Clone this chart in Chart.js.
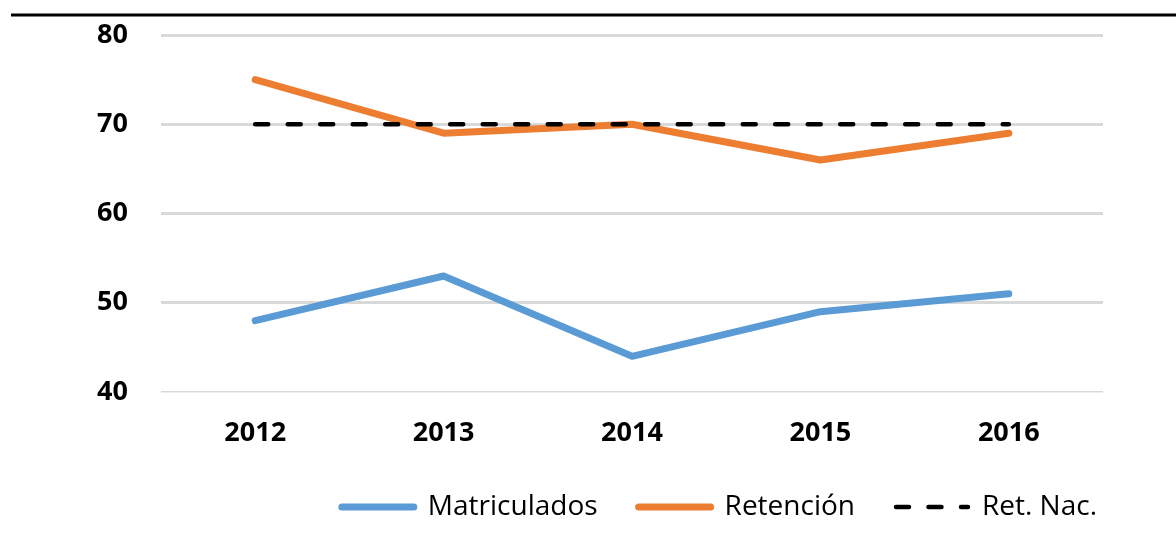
<!DOCTYPE html>
<html>
<head>
<meta charset="utf-8">
<script src="https://cdn.jsdelivr.net/npm/chart.js@4"></script>
<style>
  body { margin: 0; background: #fff; }
  #wrap { width: 1176px; height: 533px; position: relative; }
</style>
</head>
<body>
<div id="wrap"><canvas id="chart"></canvas></div>
<script>
const years = ['2012', '2013', '2014', '2015', '2016'];
const matriculados = [48, 53, 44, 49, 51];
const retencion = [75, 69, 70, 66, 69];
const retNac = [70, 70, 70, 70, 70];
const yTicks = [40, 50, 60, 70, 80];

// black rule across the top of the figure
const topRule = {
  id: 'topRule',
  beforeDraw(chart) {
    const c = chart.ctx;
    c.save();
    c.strokeStyle = '#000';
    c.lineWidth = 3;
    c.beginPath();
    c.moveTo(11, 15);
    c.lineTo(chart.width, 15);
    c.stroke();
    c.restore();
  }
};

// nudge the legend a bit to the right, like the original
const legendShift = {
  id: 'legendShift',
  afterLayout(chart) {
    if (chart.legend) {
      chart.legend.left += 35;
      chart.legend.right += 35;
    }
  }
};

const ctx = document.getElementById('chart');

new Chart(ctx, {
  type: 'line',
  data: {
    labels: years,
    datasets: [{
      label: 'Matriculados',
      data: matriculados,
      borderColor: '#5b9bd5',
      backgroundColor: '#5b9bd5',
      borderWidth: 7,
      borderCapStyle: 'round',
      borderJoinStyle: 'round',
      pointRadius: 0,
      pointStyle: 'line',
      tension: 0,
      order: 2
    }, {
      label: 'Retención',
      data: retencion,
      borderColor: '#ed7d31',
      backgroundColor: '#ed7d31',
      borderWidth: 7,
      borderCapStyle: 'round',
      borderJoinStyle: 'round',
      pointRadius: 0,
      pointStyle: 'line',
      tension: 0,
      order: 1
    }, {
      label: 'Ret. Nac.',
      data: retNac,
      borderColor: '#000',
      backgroundColor: '#000',
      borderWidth: 4.5,
      borderDash: [13, 19.5],
      borderCapStyle: 'round',
      pointRadius: 0,
      pointStyle: 'line',
      tension: 0,
      order: 0
    }]
  },
  options: {
    responsive: true,
    maintainAspectRatio: false,
    animation: false,
    layout: {
      padding: { top: 35, right: 73, left: 0, bottom: 2 }
    },
    plugins: {
      tooltip: { enabled: false },
      legend: {
        position: 'bottom',
        align: 'end',
        labels: {
          usePointStyle: true,
          pointStyle: 'line',
          pointStyleWidth: 72,
          boxHeight: 6,
          padding: 41,
          color: '#000',
          font: { family: 'Open Sans', size: 28 },
          sort: (a, b) => a.datasetIndex - b.datasetIndex,
          generateLabels: (chart) => {
            const items = Chart.defaults.plugins.legend.labels.generateLabels(chart);
            items.forEach(it => {
              const ds = chart.data.datasets[it.datasetIndex];
              it.lineDash = ds.borderDash || [];
              it.lineCap = 'round';
              it.lineWidth = ds.borderWidth;
              it.strokeStyle = ds.borderColor;
            });
            return items;
          }
        }
      }
    },
    scales: {
      x: {
        offset: true,
        grid: { display: false },
        border: { display: false },
        ticks: {
          color: '#000',
          padding: 17,
          font: { family: 'Open Sans', size: 27, weight: 'bold' }
        },
        afterFit: (scale) => { scale.height = 60; }
      },
      y: {
        min: 40,
        max: 80,
        afterBuildTicks: (scale) => { scale.ticks = yTicks.map(v => ({ value: v })); },
        grid: {
          color: '#d9d9d9',
          lineWidth: (c) => (c.tick && c.tick.value === 40 ? 1.5 : 3),
          drawTicks: false
        },
        border: { display: false },
        ticks: {
          color: '#000',
          padding: 33,
          font: { family: 'Open Sans', size: 27, weight: 'bold' }
        },
        afterFit: (scale) => {
          scale.width = 161;
          scale.paddingTop = 0;
          scale.paddingBottom = 0;
        }
      }
    }
  },
  plugins: [topRule, legendShift]
});
</script>
</body>
</html>
